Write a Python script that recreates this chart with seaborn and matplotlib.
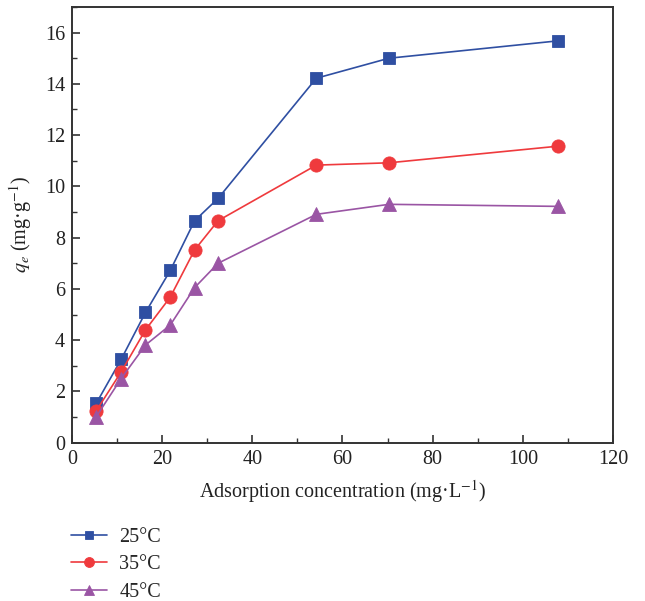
import matplotlib
matplotlib.use("Agg")
import matplotlib.pyplot as plt
import seaborn as sns
import pandas as pd
from matplotlib.ticker import MultipleLocator

conc = [5.4, 10.9, 16.3, 21.8, 27.2, 32.4, 54.2, 70.3, 107.9]
q_25 = [1.54, 3.25, 5.08, 6.72, 8.66, 9.53, 14.22, 15.0, 15.68]
q_35 = [1.25, 2.76, 4.4, 5.68, 7.52, 8.66, 10.83, 10.92, 11.57]
q_45 = [1.02, 2.5, 3.81, 4.59, 6.05, 7.0, 8.91, 9.3, 9.22]
labels = ["25°C", "35°C", "45°C"]
colors = ["#2F4FA2", "#EF3A3D", "#9A55A4"]
markers = ["s", "o", "^"]
msizes = [8, 9.5, 9.5]

rows = []
for lab, ys in zip(labels, [q_25, q_35, q_45]):
    for x, y in zip(conc, ys):
        rows.append({"conc": x, "q": y, "T": lab})
df = pd.DataFrame(rows)

sns.set_style("white")
plt.rcParams["font.family"] = ["Liberation Serif", "DejaVu Serif"]
plt.rcParams["mathtext.fontset"] = "stix"

fig = plt.figure(figsize=(6.45, 6.01), dpi=100)
ax = fig.add_axes([0.1116, 0.2634, 0.8388, 0.7250])

for lab, c, m, ms in zip(labels, colors, markers, msizes):
    sub = df[df["T"] == lab]
    sns.lineplot(data=sub, x="conc", y="q", ax=ax, color=c, marker=m,
                 markersize=ms, linewidth=1.2, markeredgecolor=c,
                 markeredgewidth=0.6, label=lab, legend=False)

ax.set_xlim(0, 120)
ax.set_ylim(0, 17)
ax.xaxis.set_major_locator(MultipleLocator(20))
ax.xaxis.set_minor_locator(MultipleLocator(10))
ax.yaxis.set_major_locator(MultipleLocator(2))
ax.yaxis.set_minor_locator(MultipleLocator(1))
ax.tick_params(which="both", direction="in", top=False, right=False,
               bottom=True, left=True, color="#333333", labelsize=14.5,
               labelcolor="#222222")
ax.tick_params(which="major", length=6, width=1.2, pad=5)
ax.tick_params(which="minor", length=3.5, width=1.0)
for s in ax.spines.values():
    s.set_color("#333333")
    s.set_linewidth(1.4)

ax.set_xlabel("Adsorption concentration (mg·L$^{-1}$)", fontsize=14.5,
              color="#222222", labelpad=7)
ax.set_ylabel("$q_e$ (mg·g$^{-1}$)", fontsize=14.5, color="#222222", labelpad=8)

handles, lbls = ax.get_legend_handles_labels()
fig.legend(handles, lbls, loc="upper left", bbox_to_anchor=(0.110, 0.122),
           frameon=False, fontsize=14.5, handlelength=1.8, handletextpad=0.6,
           labelspacing=0.42, borderpad=0, borderaxespad=0, markerscale=0.75)

fig.savefig("out.png", dpi=100)
